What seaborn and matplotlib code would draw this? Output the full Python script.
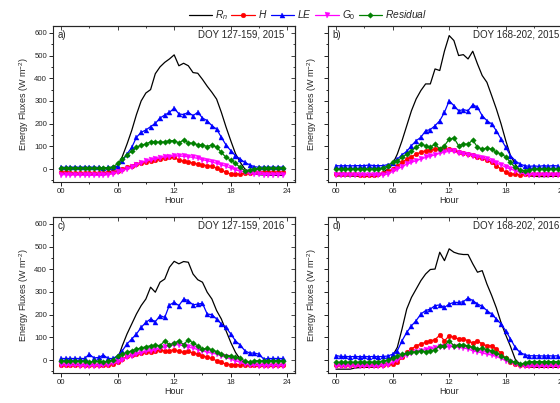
import matplotlib
matplotlib.use("Agg")
import matplotlib.pyplot as plt
from matplotlib.ticker import MultipleLocator
import numpy as np
import pandas as pd
import seaborn as sns

# half-hourly diurnal means, 00:00 .. 23:30
HOURS = np.arange(0, 24, 0.5)

# a) DOY 127-159, 2015
RN_A = [-20, -20, -22, -22, -23, -24, -25, -26, -27, -25, -20, -5,
        15, 55, 110, 170, 240, 300, 335, 350, 420, 450, 470, 485,
        503, 455, 466, 455, 425, 422, 395, 365, 338, 308, 250, 185,
        125, 68, 30, 0, -15, -22, -25, -26, -27, -27, -28, -28]
H_A = [-15, -15, -16, -16, -17, -17, -18, -18, -18, -17, -15, -12,
       -7, 0, 8, 15, 22, 28, 32, 37, 42, 46, 50, 51,
       51, 40, 34, 32, 26, 22, 18, 15, 12, 4, -4, -15,
       -22, -22, -22, -19, -16, -15, -15, -15, -15, -15, -15, -15]
LE_A = [8, 8, 8, 9, 8, 9, 8, 9, 7, 6, 7, 9,
        12, 35, 66, 95, 140, 162, 172, 187, 201, 225, 238, 250,
        268, 243, 240, 250, 235, 250, 225, 213, 191, 176, 140, 106,
        81, 59, 44, 29, 19, 10, 8, 9, 8, 9, 8, 9]
G0_A = [-25, -25, -26, -26, -27, -27, -27, -28, -28, -27, -25, -20,
        -15, -7, 0, 7, 18, 28, 34, 40, 44, 49, 54, 54,
        59, 57, 56, 54, 51, 47, 41, 37, 31, 25, 19, 12,
        4, -3, -10, -15, -19, -22, -23, -24, -25, -25, -25, -25]
RES_A = [5, 6, 5, 6, 5, 6, 5, 5, 4, 5, 6, 8,
         25, 44, 63, 78, 95, 106, 110, 120, 120, 118, 120, 125,
         125, 115, 128, 116, 113, 107, 106, 99, 106, 96, 74, 51,
         40, 25, 7, -7, -4, 0, 3, 4, 4, 5, 4, 5]

# b) DOY 168-202, 2015
RN_B = [-30, -30, -30, -31, -31, -32, -32, -32, -32, -30, -15, 0,
        22, 66, 125, 191, 257, 309, 346, 375, 375, 441, 434, 520,
        588, 566, 500, 504, 485, 519, 463, 412, 382, 324, 265, 199,
        125, 59, 22, -7, -22, -30, -32, -33, -33, -33, -32, -32]
H_B = [-22, -22, -23, -23, -23, -24, -24, -24, -24, -22, -18, -10,
       0, 15, 29, 44, 54, 66, 74, 81, 84, 88, 88, 93,
       88, 85, 74, 69, 66, 63, 54, 49, 40, 29, 15, 0,
       -15, -22, -22, -25, -23, -22, -22, -22, -22, -22, -22, -22]
LE_B = [15, 14, 15, 14, 15, 15, 15, 18, 15, 15, 15, 20,
        25, 44, 63, 78, 103, 125, 140, 169, 174, 191, 213, 250,
        301, 279, 257, 262, 257, 284, 272, 235, 213, 199, 169, 132,
        96, 59, 37, 22, 15, 12, 14, 12, 15, 13, 15, 14]
G0_B = [-25, -25, -26, -26, -27, -27, -27, -27, -27, -26, -25, -22,
        -10, 0, 10, 22, 29, 37, 44, 51, 56, 63, 69, 74,
        78, 78, 69, 66, 63, 59, 54, 49, 43, 34, 26, 19,
        7, 0, -7, -15, -22, -24, -25, -25, -25, -26, -26, -26]
RES_B = [0, 0, 1, 0, 1, 0, 1, 0, 1, 2, 5, 15,
         29, 37, 51, 66, 81, 96, 110, 103, 96, 110, 88, 103,
         132, 137, 103, 110, 110, 128, 96, 88, 93, 88, 74, 66,
         54, 29, 7, -4, -7, -3, 0, 0, 1, 0, 1, 0]

# c) DOY 127-159, 2016
RN_C = [-20, -20, -21, -22, -22, -23, -23, -23, -23, -22, -20, -15,
        4, 63, 115, 159, 203, 240, 269, 321, 299, 343, 357, 409,
        435, 424, 434, 431, 379, 354, 343, 299, 269, 218, 181, 129,
        78, 34, 4, -18, -25, -25, -25, -25, -25, -25, -25, -25]
H_C = [-20, -20, -21, -21, -22, -22, -22, -22, -22, -21, -20, -16,
       -10, 4, 16, 22, 26, 31, 34, 37, 41, 44, 41, 41,
       46, 38, 34, 38, 31, 26, 19, 12, 7, -3, -10, -18,
       -20, -20, -20, -20, -20, -20, -20, -20, -20, -20, -20, -20]
LE_C = [7, 7, 7, 7, 7, 7, 26, 9, 12, 22, 7, 7,
        19, 41, 71, 93, 115, 144, 166, 181, 169, 196, 188, 243,
        254, 240, 269, 262, 243, 247, 250, 203, 200, 181, 159, 144,
        115, 85, 66, 41, 31, 31, 26, 4, 7, 7, 7, 7]
G0_C = [-22, -22, -23, -23, -24, -24, -24, -24, -24, -23, -20, -15,
        -10, 0, 12, 19, 26, 31, 38, 41, 46, 51, 56, 63,
        66, 68, 63, 56, 53, 46, 41, 34, 31, 26, 19, 12,
        4, -3, -10, -18, -22, -23, -24, -24, -24, -24, -24, -24]
RES_C = [-5, -5, -6, -5, -6, -5, -10, -5, -6, -8, -4, 0,
         19, 26, 34, 41, 49, 53, 59, 63, 66, 63, 85, 68,
         74, 85, 68, 90, 75, 63, 49, 51, 46, 37, 26, 19,
         19, 12, 7, -3, -10, -3, -3, -4, -3, -4, -3, -4]

# d) DOY 168-202, 2016
RN_D = [-40, -40, -40, -40, -35, -33, -32, -32, -31, -30, -25, -10,
        19, 56, 137, 225, 276, 313, 350, 379, 399, 401, 475, 438,
        490, 475, 468, 465, 465, 424, 387, 394, 335, 285, 230, 165,
        110, 60, 4, -18, -29, -30, -32, -32, -32, -32, -32, -32]
H_D = [-20, -20, -20, -20, -20, -20, -20, -20, -20, -20, -20, -19,
       -18, -10, 12, 34, 49, 63, 71, 78, 85, 90, 110, 85,
       107, 100, 93, 93, 85, 75, 85, 71, 63, 63, 49, 31,
       7, -10, -18, -22, -21, -20, -20, -20, -20, -20, -20, -20]
LE_D = [20, 16, 16, 15, 16, 15, 16, 15, 16, 15, 16, 18,
        26, 41, 85, 122, 151, 174, 203, 218, 225, 240, 243, 232,
        247, 254, 254, 257, 274, 262, 247, 237, 218, 203, 181, 159,
        129, 93, 56, 34, 24, 19, 19, 19, 18, 19, 18, 19]
G0_D = [-25, -25, -26, -26, -26, -27, -27, -27, -27, -26, -25, -20,
        -10, 1, 12, 22, 31, 37, 41, 46, 49, 53, 56, 56,
        59, 59, 56, 53, 49, 41, 37, 31, 26, 22, 16, 7,
        -3, -10, -18, -25, -27, -27, -27, -27, -27, -27, -27, -27]
RES_D = [-10, -10, -10, -9, -10, -9, -10, -9, -9, -8, -5, 0,
         7, 19, 26, 31, 34, 37, 41, 37, 41, 46, 63, 63,
         85, 63, 66, 66, 63, 56, 49, 51, 46, 41, 31, 19,
         7, -3, -10, -18, -13, -7, -7, -7, -7, -7, -7, -7]

PANEL_TAGS = ["a)", "b)", "c)", "d)"]
PANEL_TITLES = ["DOY 127-159, 2015", "DOY 168-202, 2015",
                "DOY 127-159, 2016", "DOY 168-202, 2016"]
SERIES_LABELS = [r"$R_n$", r"$H$", r"$LE$", r"$G_0$", r"$Residual$"]

sns.set_style("ticks")
plt.rcParams["font.family"] = ["Liberation Sans", "DejaVu Sans"]
plt.rcParams["mathtext.fontset"] = "custom"
plt.rcParams["mathtext.rm"] = "Liberation Sans"
plt.rcParams["mathtext.it"] = "Liberation Sans:italic"
plt.rcParams["axes.linewidth"] = 0.8

# color, marker per series (Rn has no marker)
styles = [("black", None), ("#ff0000", "o"), ("#0000ff", "^"),
          ("#ff00ff", "v"), ("#008000", "D")]
marker_sizes = [0, 3.4, 3.6, 3.6, 2.8]

panels = [
    [RN_A, H_A, LE_A, G0_A, RES_A],
    [RN_B, H_B, LE_B, G0_B, RES_B],
    [RN_C, H_C, LE_C, G0_C, RES_C],
    [RN_D, H_D, LE_D, G0_D, RES_D],
]

fig = plt.figure(figsize=(5.6, 4.03), dpi=100)
positions = [
    [0.0946, 0.5484, 0.432, 0.387],
    [0.5857, 0.5484, 0.432, 0.387],
    [0.0946, 0.0744, 0.432, 0.387],
    [0.5857, 0.0744, 0.432, 0.387],
]

handles = []
for k, (pos, series) in enumerate(zip(positions, panels)):
    ax = fig.add_axes(pos)
    for j, (vals, (col, mk)) in enumerate(zip(series, styles)):
        df = pd.DataFrame({"Hour": HOURS, "Flux": vals})
        kw = dict(color=col, linewidth=0.9, ax=ax)
        if mk is not None:
            kw.update(marker=mk, markersize=marker_sizes[j],
                      markeredgewidth=0.3, markeredgecolor=col)
        sns.lineplot(data=df, x="Hour", y="Flux", **kw)
        if k == 0:
            handles.append(ax.lines[-1])

    ax.set_xlim(-0.85, 24.8)
    ax.set_ylim(-57, 630)
    ax.set_xticks([0, 6, 12, 18, 24])
    ax.set_xticklabels(["00", "06", "12", "18", "24"])
    ax.xaxis.set_minor_locator(MultipleLocator(3))
    ax.set_yticks([0, 100, 200, 300, 400, 500, 600])
    ax.yaxis.set_minor_locator(MultipleLocator(50))
    if k % 2 == 1:
        ax.set_yticklabels([])
    ax.tick_params(which="both", direction="out", labelsize=5.6, pad=1.5,
                   width=0.6, color="black")
    ax.tick_params(which="major", length=2.8)
    ax.tick_params(which="minor", length=1.6)

    # mirrored inward ticks on top and right
    top = ax.secondary_xaxis("top")
    top.set_xticks([0, 6, 12, 18, 24])
    top.xaxis.set_minor_locator(MultipleLocator(3))
    top.tick_params(which="both", direction="in", labeltop=False, width=0.6)
    top.tick_params(which="major", length=2.8)
    top.tick_params(which="minor", length=1.6)
    right = ax.secondary_yaxis("right")
    right.set_yticks([0, 100, 200, 300, 400, 500, 600])
    right.yaxis.set_minor_locator(MultipleLocator(50))
    right.tick_params(which="both", direction="in", labelright=False, width=0.6)
    right.tick_params(which="major", length=2.8)
    right.tick_params(which="minor", length=1.6)

    ax.set_xlabel("Hour", fontsize=6.5, labelpad=0.5)
    ax.set_ylabel("Energy Fluxes (W m$^{-2}$)", fontsize=6.5, labelpad=2)
    ax.text(0.018, 0.975, PANEL_TAGS[k], transform=ax.transAxes,
            ha="left", va="top", fontsize=7)
    ax.text(0.955, 0.975, PANEL_TITLES[k], transform=ax.transAxes,
            ha="right", va="top", fontsize=7)

fig.legend(handles, SERIES_LABELS, loc="center",
           bbox_to_anchor=(308 / 560, 1 - 15 / 403), ncol=5, frameon=False,
           fontsize=7.4, handlelength=2.3, handletextpad=0.3,
           columnspacing=0.3, borderaxespad=0)

fig.savefig("out.png", dpi=100)
